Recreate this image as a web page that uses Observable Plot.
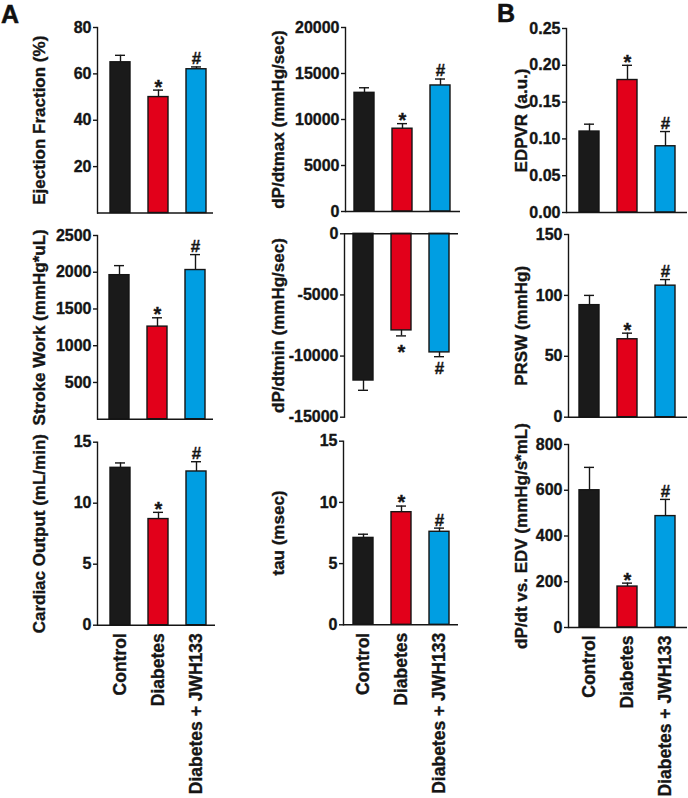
<!DOCTYPE html>
<html>
<head>
<meta charset="utf-8">
<script src="https://cdn.jsdelivr.net/npm/d3@7"></script>
<script src="https://cdn.jsdelivr.net/npm/@observablehq/plot@0.6"></script>
<style>
  body { margin: 0; background: #fff; }
  #fig { position: relative; width: 688px; height: 798px; background: #fff; overflow: hidden;
         font-family: "Liberation Sans", Arial, sans-serif; font-weight: bold; }
  #fig svg { position: absolute; overflow: visible; background: transparent; }
  #fig svg text { stroke: #151515; stroke-width: 0.35px; }
  .letter { position: absolute; font-size: 25px; line-height: 1; font-weight: bold; color: #111;
            -webkit-text-stroke: 0.5px #111; }
</style>
</head>
<body>
<div id="fig">
  <div class="letter" style="left:1px; top:2px;">A</div>
  <div class="letter" style="left:497px; top:1px;">B</div>
</div>
<script>
// ---- data ----
const groups = ["Control", "Diabetes", "Diabetes + JWH133"];
const significance = ["", "*", "#"];
const groupColors = ["#1a1a1a", "#e2001a", "#009ee2"];

const ejectionFraction = [65, 50, 62];
const ejectionFractionSEM = [3, 3, 1];
const efTicks = [20, 40, 60, 80];

const dPdtMax = [12900, 9000, 13700];
const dPdtMaxSEM = [550, 550, 700];
const dPdtMaxTicks = [0, 5000, 10000, 15000, 20000];

const edpvr = [0.11, 0.18, 0.09];
const edpvrSEM = [0.01, 0.02, 0.02];
const edpvrTicks = [0, 0.05, 0.10, 0.15, 0.20, 0.25];

const strokeWork = [1960, 1260, 2030];
const strokeWorkSEM = [130, 120, 210];
const strokeWorkTicks = [500, 1000, 1500, 2000, 2500];

const dPdtMin = [-12000, -7900, -9700];
const dPdtMinSEM = [800, 450, 350];
const dPdtMinTicks = [0, -5000, -10000, -15000];

const prsw = [92, 64, 108];
const prswSEM = [8, 5, 5];
const prswTicks = [0, 50, 100, 150];

const cardiacOutput = [12.9, 8.7, 12.6];
const cardiacOutputSEM = [0.4, 0.55, 0.8];
const cardiacOutputTicks = [0, 5, 10, 15];

const tau = [7.1, 9.2, 7.6];
const tauSEM = [0.3, 0.5, 0.3];
const tauTicks = [0, 5, 10, 15];

const dPdtEDV = [600, 179, 487];
const dPdtEDVSEM = [100, 15, 73];
const dPdtEDVTicks = [0, 200, 400, 600, 800];

// ---- layout ----
const cols = [[0, 230], [230, 460], [460, 688]];
const rowsY = [[0, 222], [222, 430], [430, 798]];
const titleTop = [32, 271, 514]; // screen x of title text top per column
const FONT = "'Liberation Sans', Arial, sans-serif";
const INK = "#151515";

const panels = [
  {col:0,row:0,values:ejectionFraction,sem:ejectionFractionSEM,domain:[0,80],ticks:efTicks,label:"Ejection Fraction (%)",ax:97,bx:213,top:27,bottom:212.5,c1:120},
  {col:1,row:0,values:dPdtMax,sem:dPdtMaxSEM,domain:[0,20000],ticks:dPdtMaxTicks,label:"dP/dtmax (mmHg/sec)",ax:345,bx:460,top:27,bottom:211,c1:364},
  {col:2,row:0,values:edpvr,sem:edpvrSEM,domain:[0,0.25],ticks:edpvrTicks,fmt:d=>d.toFixed(2),label:"EDPVR (a.u.)",ax:566,bx:687,top:28,bottom:212,c1:589},
  {col:0,row:1,values:strokeWork,sem:strokeWorkSEM,domain:[0,2500],ticks:strokeWorkTicks,label:"Stroke Work (mmHg*uL)",ax:97,bx:213,top:235,bottom:418.7,c1:119},
  {col:1,row:1,values:dPdtMin,sem:dPdtMinSEM,domain:[-15000,0],ticks:dPdtMinTicks,label:"dP/dtmin (mmHg/sec)",ax:344,bx:458,top:233.3,bottom:416.7,c1:363,negative:true},
  {col:2,row:1,values:prsw,sem:prswSEM,domain:[0,150],ticks:prswTicks,label:"PRSW (mmHg)",ax:568,bx:687,top:234,bottom:416.7,c1:589},
  {col:0,row:2,values:cardiacOutput,sem:cardiacOutputSEM,domain:[0,15],ticks:cardiacOutputTicks,label:"Cardiac Output (mL/min)",ax:97,bx:215,top:441.7,bottom:624.7,c1:119.5,showX:true},
  {col:1,row:2,values:tau,sem:tauSEM,domain:[0,15],ticks:tauTicks,label:"tau (msec)",ax:343,bx:458,top:440.7,bottom:624.3,c1:363,showX:true},
  {col:2,row:2,values:dPdtEDV,sem:dPdtEDVSEM,domain:[0,800],ticks:dPdtEDVTicks,label:"dP/dt vs. EDV (mmHg/s*mL)",ax:568,bx:687,top:444,bottom:627,c1:589,showX:true}
];

const fig = document.getElementById("fig");

function drawPanel(p) {
  const [cl, cr] = cols[p.col];
  const [rt, rb] = rowsY[p.row];
  const width = cr - cl, height = rb - rt;
  const step = 38, bw = 20, R = p.bx - p.ax;
  const pin = 1 - bw / step;
  const pout = (R / step - 3 + pin) / 2;
  const leftover = R - step * (3 - pin);
  const align = Math.max(0, Math.min(1, (p.c1 - bw / 2 - p.ax) / leftover));

  const rows = groups.map((g, i) => ({
    group: g,
    value: p.values[i],
    err: p.negative ? p.values[i] - p.sem[i] : p.values[i] + p.sem[i],
    sig: significance[i]
  }));
  const fmt = p.fmt || (d => String(d));
  const stars = rows.filter(d => d.sig === "*");
  const hashes = rows.filter(d => d.sig === "#");

  const marks = [
    Plot.barY(rows, {x: "group", y: "value", fill: "group", stroke: INK, strokeWidth: 1.4}),
    Plot.ruleX(rows, {x: "group", y1: "value", y2: "err", stroke: INK, strokeWidth: 1.4}),
    Plot.tickY(rows, {x: "group", y: "err", stroke: INK, strokeWidth: 1.4, insetLeft: 5, insetRight: 5}),
    Plot.text(stars, {x: "group", y: "err", text: "sig", fontSize: 20, fontWeight: "bold", fill: INK,
                      lineAnchor: "middle", dy: p.negative ? 17 : -3}),
    Plot.text(hashes, {x: "group", y: "err", text: "sig", fontSize: 17, fontWeight: "bold", fill: INK,
                       lineAnchor: "middle", dy: p.negative ? 12 : -8}),
    Plot.ruleY([0], {stroke: INK, strokeWidth: 1.4}),
    Plot.frame({anchor: "left", stroke: INK, strokeWidth: 1.4}),
    Plot.axisY({ticks: p.ticks, tickFormat: fmt, tickSize: 4, tickPadding: 2, label: null,
                fontSize: 16, fontWeight: "bold", stroke: INK, strokeWidth: 1.4, color: INK}),
    Plot.text([p.label], {frameAnchor: "left", rotate: -90, dx: -(p.ax - titleTop[p.col]),
                          text: d => d, fontSize: 17, fontWeight: "bold", fill: INK,
                          lineAnchor: "top", textAnchor: "middle"})
  ];
  if (p.showX) {
    marks.push(Plot.axisX({tickRotate: -90, tickSize: 0, tickPadding: 8, label: null,
                           fontSize: 17.5, fontWeight: "bold", color: INK}));
  }

  const svg = Plot.plot({
    width, height,
    marginLeft: p.ax - cl,
    marginRight: cr - p.bx,
    marginTop: p.top - rt,
    marginBottom: rb - p.bottom,
    style: {fontFamily: FONT, fontWeight: "bold", background: "transparent", overflow: "visible", fontSize: "15px"},
    x: Object.assign({domain: groups, paddingInner: pin, paddingOuter: pout, align},
                     p.showX ? {} : {axis: null}),
    y: {domain: p.domain, nice: false},
    color: {domain: groups, range: groupColors},
    marks
  });
  svg.style.left = cl + "px";
  svg.style.top = rt + "px";
  fig.appendChild(svg);
}

panels.forEach(drawPanel);
</script>
</body>
</html>
